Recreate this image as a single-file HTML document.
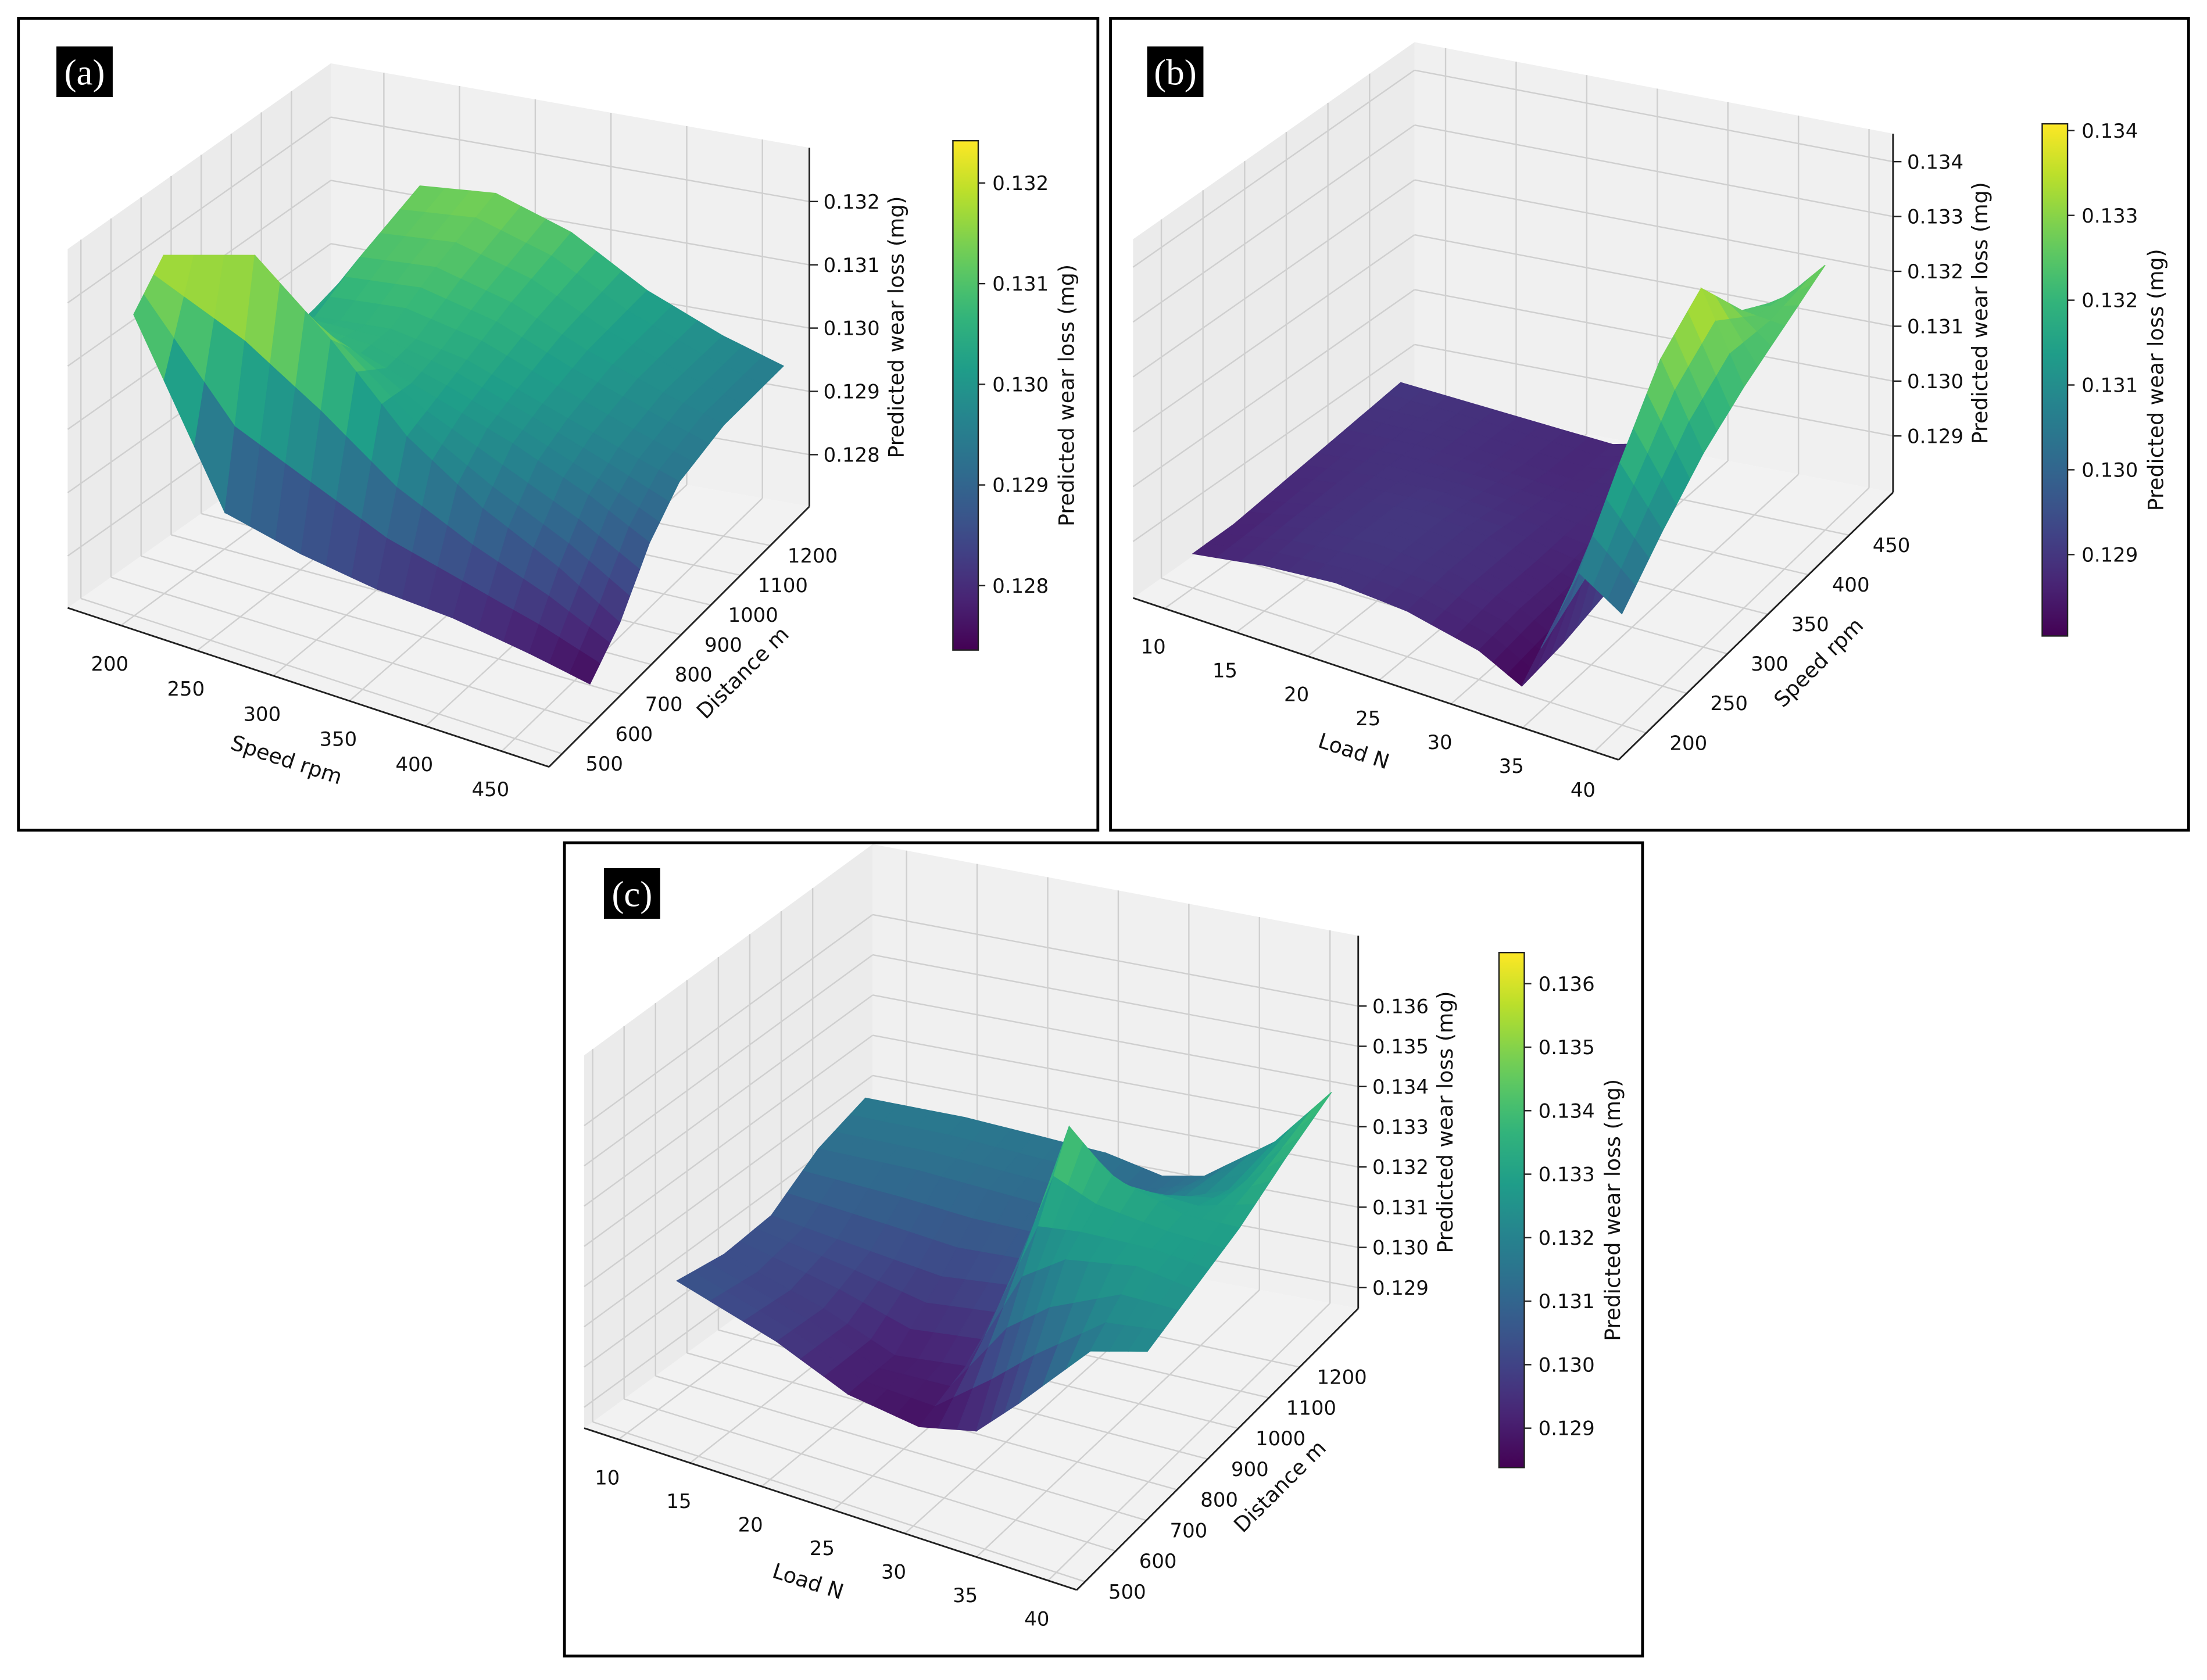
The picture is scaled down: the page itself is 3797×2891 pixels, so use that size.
<!DOCTYPE html>
<html><head><meta charset="utf-8"><style>
html,body{margin:0;padding:0;background:#fff;}
svg{display:block;}
text{font-family:"DejaVu Sans","Liberation Sans",sans-serif;fill:#111;}
</style></head><body>
<svg id="fig" width="3797" height="2891" viewBox="0 0 1568 1194" xmlns="http://www.w3.org/2000/svg">
<rect x="0" y="0" width="1568" height="1194" fill="#fff"/>
<g id="layer"></g>
<rect x="13" y="13" width="767" height="577" fill="none" stroke="#000" stroke-width="2"/>
<rect x="789" y="13" width="766" height="577" fill="none" stroke="#000" stroke-width="2"/>
<rect x="401" y="599" width="766" height="578" fill="none" stroke="#000" stroke-width="2"/>
</svg>
<script>
// ---- Panel (a): rows = distance, cols = speed
const aSpeed = [170, 230, 280, 330, 380, 430, 470];
const aDistance = [650, 750, 850, 950, 1100, 1300];
const aWear = [
 [0.1312,0.1285,0.1282,0.1280,0.1279,0.1277,0.1275],
 [0.1318,0.1322,0.1312,0.1300,0.1292,0.1286,0.1280],
 [0.1302,0.1308,0.1306,0.1302,0.1298,0.1293,0.1288],
 [0.1292,0.1305,0.1306,0.1304,0.1300,0.1296,0.1293],
 [0.1288,0.1309,0.1310,0.1307,0.1302,0.1298,0.1295],
 [0.1286,0.1313,0.1314,0.1310,0.1303,0.1298,0.1295]];
const aXTicks = [200,250,300,350,400,450];
const aYTicks = [500,600,700,800,900,1000,1100,1200];
const aZTicks = [0.128,0.129,0.130,0.131,0.132];
const aCbTicks = [0.128,0.129,0.130,0.131,0.132];
// ---- Panel (b): rows = speed, cols = load
const bLoad = [10, 15, 20, 25, 30, 33, 37, 40];
const bSpeed = [200, 250, 300, 350, 400, 450];
const bWear = [
 [0.1286,0.1288,0.1289,0.1288,0.1285,0.1281,0.1305,0.1300],
 [0.1286,0.1289,0.1290,0.1289,0.1286,0.1282,0.1318,0.1308],
 [0.1287,0.1289,0.1290,0.1289,0.1286,0.1284,0.1330,0.1315],
 [0.1288,0.1289,0.1289,0.1288,0.1287,0.1288,0.1336,0.1320],
 [0.1289,0.1289,0.1288,0.1287,0.1288,0.1295,0.1325,0.1324],
 [0.1290,0.1289,0.1288,0.1287,0.1290,0.1300,0.1320,0.1328]];
const bXTicks = [10,15,20,25,30,35,40];
const bYTicks = [200,250,300,350,400,450];
const bZTicks = [0.129,0.130,0.131,0.132,0.133,0.134];
const bCbTicks = [0.129,0.130,0.131,0.132,0.133,0.134];
// ---- Panel (c): rows = distance, cols = load
const cLoad = [8, 15, 20, 25, 29, 32, 37, 41];
const cDistance = [750, 900, 1050, 1200, 1350];
const cWear = [
 [0.1306,0.1298,0.1290,0.1287,0.1290,0.1300,0.1318,0.1322],
 [0.1304,0.1297,0.1290,0.1292,0.1318,0.1325,0.1328,0.1326],
 [0.1305,0.1302,0.1300,0.1302,0.1345,0.1335,0.1330,0.1330],
 [0.1313,0.1313,0.1312,0.1311,0.1312,0.1318,0.1325,0.1336],
 [0.1317,0.1317,0.1316,0.1315,0.1312,0.1314,0.1326,0.1341]];
const cXTicks = [10,15,20,25,30,35,40];
const cYTicks = [500,600,700,800,900,1000,1100,1200];
const cZTicks = [0.129,0.130,0.131,0.132,0.133,0.134,0.135,0.136];
const cCbTicks = [0.129,0.130,0.131,0.132,0.133,0.134,0.135,0.136];

const NS='http://www.w3.org/2000/svg';
const layer=document.getElementById('layer');
function mk(tag,attrs,parent){const e=document.createElementNS(NS,tag);for(const k in attrs)e.setAttribute(k,attrs[k]);(parent||layer).appendChild(e);return e;}
const VIR=[[68,1,84],[72,40,120],[62,74,137],[49,104,142],[38,130,142],[31,158,137],[53,183,121],[109,205,89],[180,222,44],[253,231,37]];
function viridis(t){t=Math.max(0,Math.min(1,t));const f=t*(VIR.length-1);const i=Math.min(VIR.length-2,Math.floor(f));const r=f-i;const a=VIR[i],b=VIR[i+1];return 'rgb('+a.map((v,k)=>Math.round(v+(b[k]-v)*r)).join(',')+')';}

const panels=[
 {id:'a',A:[48,432],B:[390,545],C:[575,360],D:[235,300],H:255,xr:[165,481],yr:[456,1331],zr:[0.12718,0.13285],
  xs:aSpeed,ys:aDistance,z:aWear,xt:aXTicks,yt:aYTicks,zt:aZTicks,cbt:aCbTicks,
  cb:{x:677,y0:100,y1:462,v0:0.13242,v1:0.12736},xl:'Speed rpm',yl:'Distance m',tag:[40,33]},
 {id:'b',A:[805,425],B:[1150,540],C:[1345,350],D:[1005,285],H:255,xr:[7.8,41.7],yr:[166,504],zr:[0.12797,0.13451],
  xs:bLoad,ys:bSpeed,z:bWear,xt:bXTicks,yt:bYTicks,zt:bZTicks,cbt:bCbTicks,
  cb:{x:1451,y0:88,y1:452,v0:0.13408,v1:0.12804},xl:'Load N',yl:'Speed rpm',tag:[815,33]},
 {id:'c',A:[415,1015],B:[765,1130],C:[965,930],D:[620,865],H:265,xr:[7.6,42],yr:[473,1391],zr:[0.12848,0.13775],
  xs:cLoad,ys:cDistance,z:cWear,xt:cXTicks,yt:cYTicks,zt:cZTicks,cbt:cCbTicks,
  cb:{x:1065,y0:677,y1:1043,v0:0.13649,v1:0.12838},xl:'Load N',yl:'Distance m',tag:[429,617]}
];

panels.forEach(p=>{
 const g=mk('g',{});
 
 
 const P=(u,v,w)=>{const a=(1-u)*(1-v),b=u*(1-v),c=u*v,d=(1-u)*v;
   return [a*p.A[0]+b*p.B[0]+c*p.C[0]+d*p.D[0], a*p.A[1]+b*p.B[1]+c*p.C[1]+d*p.D[1]-w*p.H];};
 const xu=x=>(x-p.xr[0])/(p.xr[1]-p.xr[0]);
 const yv=y=>(y-p.yr[0])/(p.yr[1]-p.yr[0]);
 const zw=z=>(z-p.zr[0])/(p.zr[1]-p.zr[0]);
 const pts=a=>a.map(q=>q[0].toFixed(1)+','+q[1].toFixed(1)).join(' ');
 const floor=mk('polygon',{points:pts([P(0,0,0),P(1,0,0),P(1,1,0),P(0,1,0)]),fill:'#f2f2f2'},g);
 
 const left=mk('polygon',{points:pts([P(0,0,0),P(0,1,0),P(0,1,1),P(0,0,1)]),fill:'#ebebeb'},g);
 
 const back=mk('polygon',{points:pts([P(0,1,0),P(1,1,0),P(1,1,1),P(0,1,1)]),fill:'#f0f0f0'},g);
 
 const gl=(a,b)=>{const l=mk('line',{x1:a[0],y1:a[1],x2:b[0],y2:b[1],stroke:'#cfcfcf','stroke-width':1},g);};
 p.xt.forEach(t=>{const u=xu(t);gl(P(u,0,0),P(u,1,0));gl(P(u,1,0),P(u,1,1));});
 p.yt.forEach(t=>{const v=yv(t);gl(P(0,v,0),P(1,v,0));gl(P(0,v,0),P(0,v,1));});
 p.zt.forEach(t=>{const w=zw(t);gl(P(0,0,w),P(0,1,w));gl(P(0,1,w),P(1,1,w));});
 const ax=(a,b,n)=>{const l=mk('line',{x1:a[0],y1:a[1],x2:b[0],y2:b[1],stroke:'#222','stroke-width':1.2},g);};
 ax(P(0,0,0),P(1,0,0),'x-axis-line');ax(P(1,0,0),P(1,1,0),'y-axis-line');ax(P(1,1,0),P(1,1,1),'z-axis-line');
 const cells=[];const S=3;
 const nr=p.ys.length,nc=p.xs.length;
 const zAt=(r,c,fr,fc)=>{const z00=p.z[r][c],z01=p.z[r][c+1],z10=p.z[r+1][c],z11=p.z[r+1][c+1];return z00*(1-fr)*(1-fc)+z01*(1-fr)*fc+z10*fr*(1-fc)+z11*fr*fc;};
 for(let r=0;r<nr-1;r++)for(let c=0;c<nc-1;c++)for(let i=0;i<S;i++)for(let j=0;j<S;j++){
   const f=[[i/S,j/S],[i/S,(j+1)/S],[(i+1)/S,(j+1)/S],[(i+1)/S,j/S]];
   const q=f.map(([fr,fc])=>{const x=p.xs[c]+(p.xs[c+1]-p.xs[c])*fc;const y=p.ys[r]+(p.ys[r+1]-p.ys[r])*fr;const z=zAt(r,c,fr,fc);return {u:xu(x),v:yv(y),w:zw(z),z};});
   const zm=q.reduce((s,o)=>s+o.z,0)/4;
   const um=q.reduce((s,o)=>s+o.u,0)/4, vm=q.reduce((s,o)=>s+o.v,0)/4;
   cells.push({q,zm,d:vm-um});
 }
 cells.sort((a,b)=>b.d-a.d);
 const sg=mk('g',{},g);
 cells.forEach(cl=>{
   const col=viridis((cl.zm-p.cb.v1)/(p.cb.v0-p.cb.v1));
   const poly=mk('polygon',{points:pts(cl.q.map(o=>P(o.u,o.v,o.w))),fill:col,stroke:col,'stroke-width':0.6},sg);
   
   
 });
 p.xt.forEach(t=>{const a=P(xu(t),0,0);const tx=mk('text',{x:a[0]-8,y:a[1]+32,'font-size':14,'text-anchor':'middle'},g);tx.textContent=t;});
 p.yt.forEach(t=>{const a=P(1,yv(t),0);const tx=mk('text',{x:a[0]+30,y:a[1]+12,'font-size':14,'text-anchor':'middle'},g);tx.textContent=t;});
 p.zt.forEach(t=>{const a=P(1,1,zw(t));const tx=mk('text',{x:a[0]+10,y:a[1]+5,'font-size':14},g);tx.textContent=t.toFixed(3);
   const tk=mk('line',{x1:a[0],y1:a[1],x2:a[0]+6,y2:a[1],stroke:'#222'},g);});
 const xm=P(0.45,0,0);const xtl=mk('text',{x:0,y:0,'font-size':15,'text-anchor':'middle',transform:`translate(${xm[0]},${xm[1]+62}) rotate(18)`},g);xtl.textContent=p.xl;
 const ym=P(1,0.45,0);const ytl=mk('text',{x:0,y:0,'font-size':15,'text-anchor':'middle',transform:`translate(${ym[0]+58},${ym[1]+20}) rotate(-45)`},g);ytl.textContent=p.yl;
 const zm2=P(1,1,0.5);const ztl=mk('text',{x:0,y:0,'font-size':15,'text-anchor':'middle',transform:`translate(${zm2[0]+67},${zm2[1]}) rotate(-90)`},g);ztl.textContent='Predicted wear loss (mg)';
 const cb=p.cb;const defs=mk('defs',{},g);
 const lg=mk('linearGradient',{id:'grad'+p.id,x1:0,y1:1,x2:0,y2:0},defs);
 for(let k=0;k<=20;k++){mk('stop',{offset:(k/20),'stop-color':viridis(k/20)},lg);}
 const cr=mk('rect',{x:cb.x,y:cb.y0,width:18,height:cb.y1-cb.y0,fill:`url(#grad${p.id})`,stroke:'#222','stroke-width':1},g);
 
 const cy=v=>cb.y1-(v-cb.v1)/(cb.v0-cb.v1)*(cb.y1-cb.y0);
 p.cbt.forEach(t=>{const y=cy(t);const tk=mk('line',{x1:cb.x+18,y1:y,x2:cb.x+23,y2:y,stroke:'#222'},g);
   const tx=mk('text',{x:cb.x+28,y:y+5,'font-size':14},g);tx.textContent=t.toFixed(3);});
 const ct=mk('text',{x:0,y:0,'font-size':15,'text-anchor':'middle',transform:`translate(${cb.x+86},${(cb.y0+cb.y1)/2}) rotate(-90)`},g);ct.textContent='Predicted wear loss (mg)';
 const tr=mk('rect',{x:p.tag[0],y:p.tag[1],width:40,height:36,fill:'#000'},g);
 const tt=mk('text',{x:p.tag[0]+20,y:p.tag[1]+27,'font-size':26,'text-anchor':'middle',style:'fill:#fff;font-family:"Liberation Serif",serif'},g);tt.textContent='('+p.id+')';
});
</script>
</body></html>
